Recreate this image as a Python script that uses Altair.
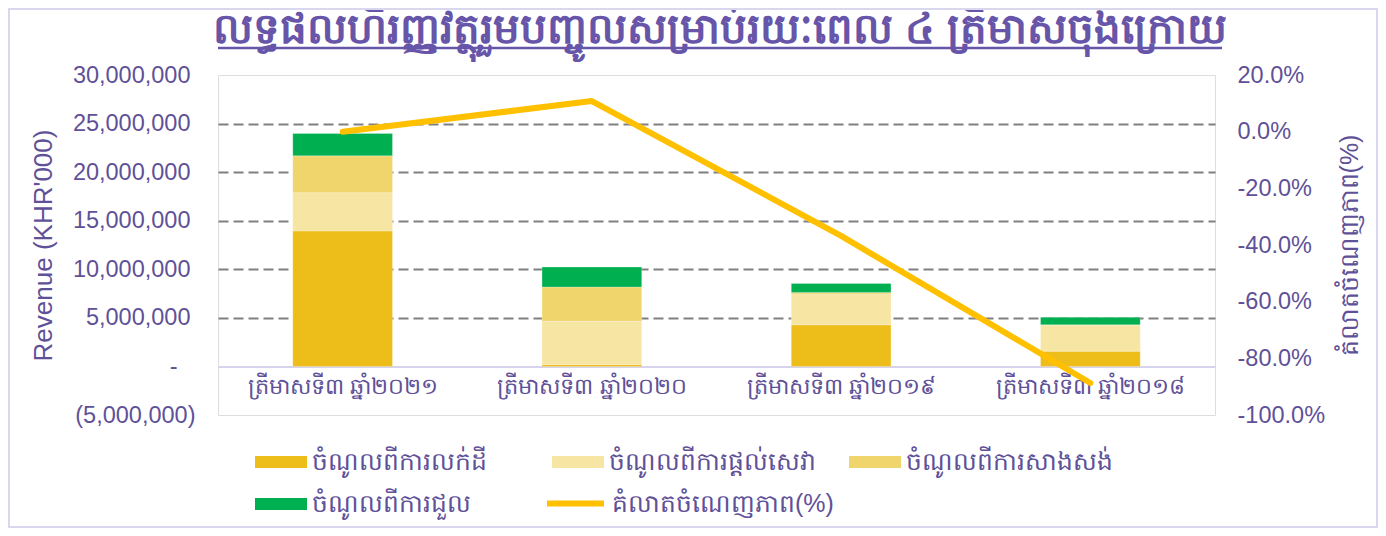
import altair as alt
import pandas as pd

quarters = ["ត្រីមាសទី៣ ឆ្នាំ២០២១", "ត្រីមាសទី៣ ឆ្នាំ២០២០",
            "ត្រីមាសទី៣ ឆ្នាំ២០១៩", "ត្រីមាសទី៣ ឆ្នាំ២០១៨"]
series = ["ចំណូលពីការលក់ដី", "ចំណូលពីការផ្តល់សេវា",
          "ចំណូលពីការសាងសង់", "ចំណូលពីការជួល"]
land = [13_950_000, 200_000, 4_280_000, 1_570_000]
services = [3_930_000, 4_450_000, 3_180_000, 2_710_000]
construction = [3_800_000, 3_530_000, 160_000, 0]
rental = [2_300_000, 2_050_000, 920_000, 780_000]
growth = [0.0, 0.108, -0.368, -0.887]
line_name = "គំលាតចំណេញភាព(%)"
title_text = "លទ្ធផលហិរញ្ញវត្ថុរួមបញ្ចូលសម្រាប់រយៈពេល ៤ ត្រីមាសចុងក្រោយ"
left_ticks = [-5_000_000, 0, 5_000_000, 10_000_000, 15_000_000,
              20_000_000, 25_000_000, 30_000_000]
right_ticks = [-1.0, -0.8, -0.6, -0.4, -0.2, 0.0, 0.2]

bar_colors = ["#EDBD1A", "#F7E5A3", "#F0D46C", "#00B050"]
line_color = "#FFC000"
purple = "#5F5198"
title_purple = "#6655A8"
font = "Liberation Sans"

rows = []
for i, q in enumerate(quarters):
    for j, vals in enumerate([land, services, construction, rental]):
        rows.append({"quarter": q, "series": series[j], "value": vals[i], "ord": j})
bars_df = pd.DataFrame(rows)
line_df = pd.DataFrame({"quarter": quarters, "growth": growth, "name": [line_name] * 4})

W, H = 997, 340
x_enc = alt.X(
    "quarter:N", sort=quarters,
    scale=alt.Scale(paddingInner=0.6, paddingOuter=0.3),
    axis=alt.Axis(title=None, labelAngle=0, labelFontSize=22.5, labelColor=purple,
                  labelFont=font, domain=True, domainColor="#D6D3EC", domainWidth=2,
                  ticks=False, offset=-H * 5 / 35, labelPadding=9, grid=False,
                  labelLimit=400, labelOverlap=False),
)

left_expr = ("datum.value == 0 ? '-' : (datum.value < 0 ? '(' + "
             "format(-datum.value, ',') + ')' : format(datum.value, ','))")
right_expr = "replace(format(datum.value, '.1%'), '\u2212', '-')"
left_pad = {"condition": [{"test": "datum.value == 0", "value": 41},
                          {"test": "datum.value > 0", "value": 28}],
            "value": 23}

bars = alt.Chart(bars_df).mark_bar(stroke="#FFFFFF", strokeWidth=0.4, strokeOpacity=0.6).encode(
    x=x_enc,
    y=alt.Y("value:Q", stack="zero",
            scale=alt.Scale(domain=[-5_000_000, 30_000_000], nice=False, zero=False),
            axis=alt.Axis(values=left_ticks, labelExpr=left_expr, title="Revenue (KHR'000)",
                          labelFontSize=23.5, labelColor=purple, labelFont=font,
                          titleFont=font, titleFontSize=26, titleFontWeight="normal",
                          titleColor=purple, titlePadding=16, labelPadding=left_pad,
                          ticks=False, domain=False,
                          grid=True, gridColor="#808080", gridWidth=1.8, gridDash=[10, 5],
                          gridOpacity=alt.condition("datum.value > 0 && datum.value < 30000000",
                                                    alt.value(1), alt.value(0)))),
    color=alt.Color("series:N", sort=series, scale=alt.Scale(domain=series, range=bar_colors),
                    legend=alt.Legend(title=None, orient="none", legendX=37, legendY=361,
                                      values=series, direction="horizontal",
                                      columns=3, gridAlign="all", columnPadding=33,
                                      rowPadding=3, padding=0,
                                      symbolType="M-1,-0.23H1V0.23H-1Z", symbolSize=2704,
                                      symbolStrokeWidth=0, labelOffset=5,
                                      labelFontSize=25, labelColor=purple, labelFont=font,
                                      labelLimit=400)),
    order=alt.Order("ord:Q", sort="ascending"),
)

line = alt.Chart(line_df).mark_line(strokeWidth=6, strokeCap="round", strokeJoin="round").encode(
    x=x_enc,
    y=alt.Y("growth:Q", scale=alt.Scale(domain=[-1.0, 0.2], nice=False, zero=False),
            axis=alt.Axis(orient="right", values=right_ticks, labelExpr=right_expr,
                          title=line_name,
                          titleAngle=270, labelFontSize=23.5, labelColor=purple, labelFont=font,
                          titleFont=font, titleFontSize=25, titleFontWeight="normal",
                          titleColor=purple, titlePadding=38, labelPadding=22,
                          ticks=False, domain=False, grid=False)),
    stroke=alt.Stroke("name:N", scale=alt.Scale(range=[line_color]),
                      legend=alt.Legend(title=None, orient="none", legendX=326, legendY=397,
                                        padding=0, symbolType="stroke", symbolSize=3249,
                                        symbolStrokeWidth=6, labelOffset=5,
                                        labelFontSize=25, labelColor=purple, labelFont=font,
                                        labelLimit=400)),
)

# decorations: chart title with underline, and outer chart border (pixel positions)
one = pd.DataFrame({"k": [0]})
title_mark = alt.Chart(one).mark_text(
    text=title_text, fontSize=42, fontWeight="bold", color=title_purple, font=font,
    align="center", baseline="alphabetic").encode(x=alt.value(502), y=alt.value(-32))
underline = alt.Chart(one).mark_rule(color=title_purple, strokeWidth=2.5).encode(
    x=alt.value(0), x2=alt.value(1004), y=alt.value(-27)
)
border = alt.Chart(one).mark_rect(
    fill=None, stroke="#D9D7EE", strokeWidth=2).encode(
    x=alt.value(-209), x2=alt.value(1159), y=alt.value(-66), y2=alt.value(452)
)

chart = alt.layer(bars, line, title_mark, underline, border).resolve_scale(
    y="independent", color="independent").properties(
    width=W, height=H,
    autosize=alt.AutoSizeParams(type="none"),
    padding={"left": 210, "top": 67, "right": 163, "bottom": 113},
).configure_view(stroke="#8A8A8A", strokeWidth=1.3).configure(background="white")

chart.save("out.html", embed_options={"renderer": "svg", "actions": False})
